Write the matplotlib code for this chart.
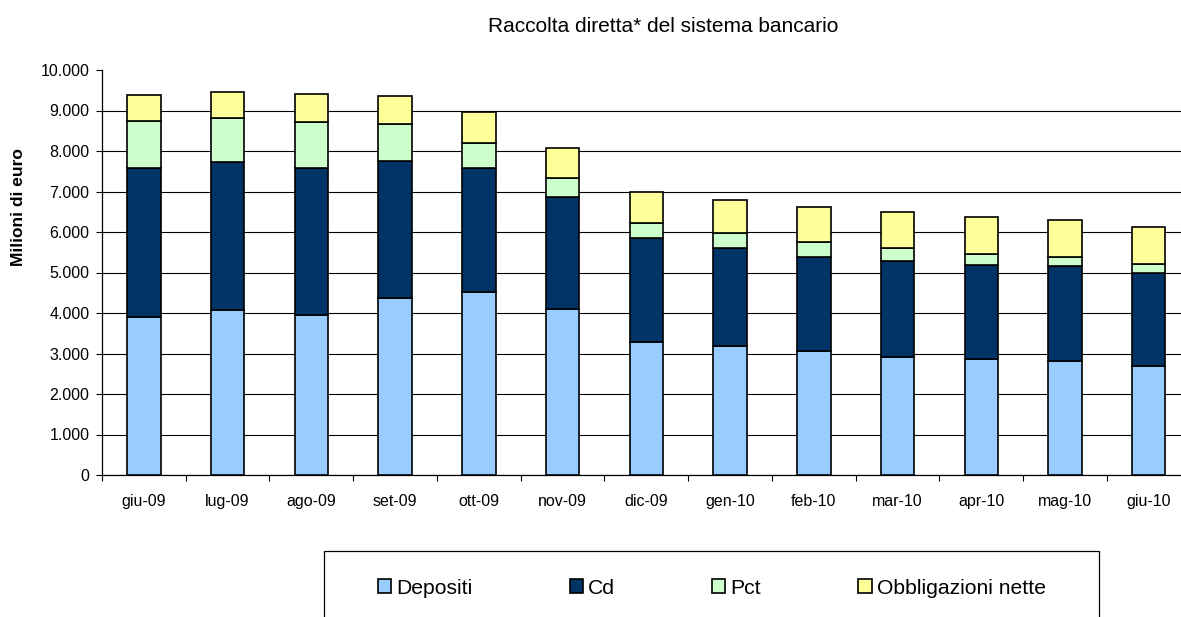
import numpy as np
import matplotlib
matplotlib.use("Agg")
import matplotlib.pyplot as plt
from matplotlib.patches import Rectangle
from matplotlib.ticker import FuncFormatter, FixedLocator

plt.rcParams['font.family'] = ['Liberation Sans', 'DejaVu Sans']

# Data (milioni di euro)
mesi = ["giu-09", "lug-09", "ago-09", "set-09", "ott-09", "nov-09", "dic-09",
        "gen-10", "feb-10", "mar-10", "apr-10", "mag-10", "giu-10"]
depositi = [3910, 4080, 3960, 4360, 4510, 4090, 3290, 3190, 3070, 2920, 2855, 2815, 2690]
cd = [3660, 3655, 3610, 3400, 3060, 2780, 2560, 2405, 2320, 2370, 2340, 2335, 2305]
pct = [1170, 1070, 1150, 900, 635, 455, 370, 385, 370, 305, 265, 240, 215]
obbligazioni = [650, 660, 680, 710, 750, 750, 775, 805, 865, 890, 920, 905, 920]

serie = ["Depositi", "Cd", "Pct", "Obbligazioni nette"]
colori = ["#99CCFF", "#003366", "#CCFFCC", "#FFFF99"]

fig = plt.figure(figsize=(11.81, 6.17), dpi=100)
ax = fig.add_axes([102 / 1181, 1 - 475 / 617, (1190.6 - 102) / 1181, 405 / 617])

x = np.arange(len(mesi))
base = np.zeros(len(mesi))
handles = []
for nome, valori, colore in zip(serie, [depositi, cd, pct, obbligazioni], colori):
    b = ax.bar(x, valori, width=0.4, bottom=base, color=colore,
               edgecolor="black", linewidth=1.2, label=nome, zorder=3)
    handles.append(b)
    base = base + np.array(valori)

ax.set_xlim(-0.5, len(mesi) - 0.5)
ax.set_ylim(0, 10000)
ax.set_yticks(np.arange(0, 10001, 1000))
ax.yaxis.set_major_formatter(FuncFormatter(lambda v, p: f"{int(v):,}".replace(",", ".")))
ax.set_xticks(x)
ax.set_xticklabels(mesi)
ax.xaxis.set_minor_locator(FixedLocator(np.arange(-0.5, len(mesi), 1.0)))
ax.tick_params(axis="x", which="major", length=0, pad=14, labelsize=11.5)
ax.tick_params(axis="x", which="minor", length=4, width=0.8, direction="out")
ax.tick_params(axis="y", length=4, width=0.8, direction="out", pad=5, labelsize=11.5)

ax.yaxis.grid(True, color="black", linewidth=0.8, zorder=0)
ax.yaxis.get_gridlines()[-1].set_visible(False)
ax.set_axisbelow(True)
for s in ["top", "right"]:
    ax.spines[s].set_visible(False)
ax.spines["left"].set_linewidth(0.9)
ax.spines["bottom"].set_linewidth(0.9)

fig.text(19 / 1181, 1 - 207.5 / 617, "Milioni di euro", rotation=90,
         ha="center", va="center", fontsize=12.5, fontweight="bold")
fig.text(663 / 1181, 1 - 26 / 617, "Raccolta diretta* del sistema bancario",
         ha="center", va="center", fontsize=15)

# legend box (extends below the visible area)
fig.patches.append(Rectangle((324 / 1181, -0.05), 775 / 1181, 1 - 551 / 617 + 0.05,
                             transform=fig.transFigure, fill=False,
                             edgecolor="black", linewidth=0.9))
leg = fig.legend(handles, serie, loc="center", bbox_to_anchor=(712 / 1181, 1 - 588 / 617),
                 ncol=4, frameon=False, fontsize=15.2, columnspacing=4.6,
                 handlelength=0.62, handleheight=0.62, handletextpad=0.25)

fig.savefig("out.png", dpi=100)
